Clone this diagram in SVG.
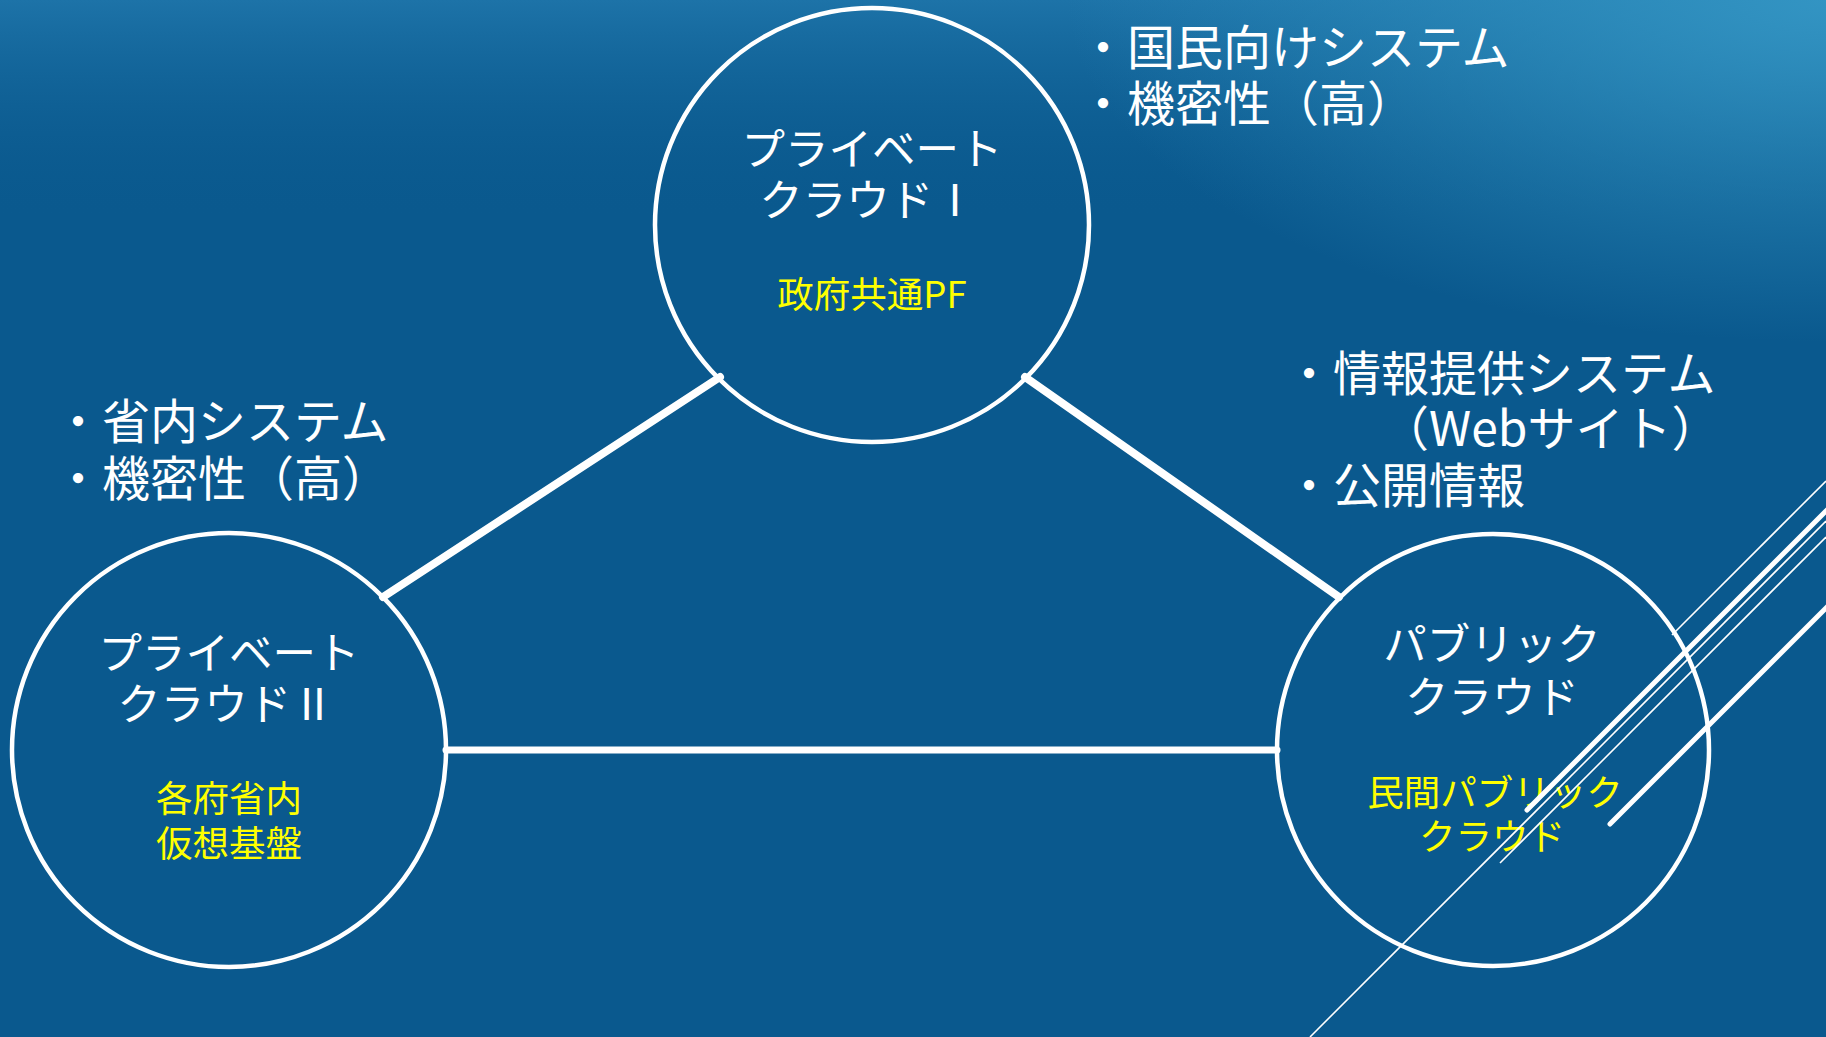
<svg xmlns="http://www.w3.org/2000/svg" width="1826" height="1037" viewBox="0 0 1826 1037">
  <defs>
    <linearGradient id="gTop" gradientUnits="userSpaceOnUse" x1="0" y1="0" x2="0" y2="220">
      <stop offset="0" stop-color="#1d73a8" stop-opacity="1"/>
      <stop offset="1" stop-color="#0a598e" stop-opacity="0"/>
    </linearGradient>
    <radialGradient id="gCorner" gradientUnits="userSpaceOnUse" cx="1826" cy="0" r="760" gradientTransform="translate(1826 0) scale(1 0.45) translate(-1826 0)">
      <stop offset="0" stop-color="#3496c4" stop-opacity="0.95"/>
      <stop offset="1" stop-color="#3496c4" stop-opacity="0"/>
    </radialGradient>
    <style>
      .ring { fill: none; stroke: #ffffff; stroke-width: 4.5; }
      .lbl { font-family: "Noto Sans CJK JP", "Liberation Sans", sans-serif; fill: #ffffff; font-size: 43.5px; text-anchor: middle; }
      .sub { font-family: "Noto Sans CJK JP", "Liberation Sans", sans-serif; fill: #ffff00; font-size: 36.5px; text-anchor: middle; }
      .note { font-family: "Noto Sans CJK JP", "Liberation Sans", sans-serif; fill: #ffffff; font-size: 48px; }
      .conn { stroke: #ffffff; stroke-width: 8; stroke-linecap: round; fill: none; }
      .conn-h { stroke-width: 7; }
      .deco-thin { stroke: #ffffff; stroke-width: 1.6; fill: none; }
      .deco-thick { stroke: #ffffff; stroke-width: 5; stroke-linecap: round; fill: none; }
    </style>
  </defs>

  <rect x="0" y="0" width="1826" height="1037" fill="#0a598e"/>
  <rect x="0" y="0" width="1826" height="1037" fill="url(#gTop)"/>
  <rect x="0" y="0" width="1826" height="1037" fill="url(#gCorner)"/>

  <g id="connectors">
    <line class="conn" x1="720" y1="377" x2="383" y2="597"/>
    <line class="conn" x1="1025" y1="377" x2="1339" y2="597"/>
    <line class="conn conn-h" x1="446" y1="750" x2="1277" y2="750"/>
  </g>

  <g id="node-private1">
    <circle class="ring" cx="872" cy="225" r="217"/>
    <text class="lbl"><tspan x="872" y="165">プライベート</tspan><tspan x="868" y="216">クラウドⅠ</tspan></text>
    <text class="sub" x="872" y="308">政府共通PF</text>
  </g>

  <g id="node-private2">
    <circle class="ring" cx="229" cy="750" r="217"/>
    <text class="lbl"><tspan x="229" y="669">プライベート</tspan><tspan x="226" y="720">クラウドⅡ</tspan></text>
    <text class="sub"><tspan x="229" y="812">各府省内</tspan><tspan x="229" y="857">仮想基盤</tspan></text>
  </g>

  <g id="node-public">
    <circle class="ring" cx="1493" cy="750" r="216"/>
    <text class="lbl"><tspan x="1492" y="660">パブリック</tspan><tspan x="1492" y="713">クラウド</tspan></text>
    <text class="sub"><tspan x="1495" y="806">民間パブリック</tspan><tspan x="1492" y="850">クラウド</tspan></text>
  </g>

  <g id="note-private1">
    <text class="note"><tspan x="1079" y="65">・国民向けシステム</tspan><tspan x="1079" y="121">・機密性（高）</tspan></text>
  </g>

  <g id="note-private2">
    <text class="note"><tspan x="54" y="439">・省内システム</tspan><tspan x="54" y="496">・機密性（高）</tspan></text>
  </g>

  <g id="note-public">
    <text class="note"><tspan x="1285" y="391">・情報提供システム</tspan><tspan x="1381" y="446">（Webサイト）</tspan><tspan x="1285" y="503">・公開情報</tspan></text>
  </g>

  <g id="decoration">
    <line class="deco-thin" x1="1672" y1="635" x2="1826" y2="481"/>
    <line class="deco-thick" x1="1527" y1="810" x2="1830" y2="507"/>
    <line class="deco-thin" x1="1310" y1="1037" x2="1826" y2="521"/>
    <line class="deco-thin" x1="1500" y1="863" x2="1826" y2="537"/>
    <line class="deco-thick" x1="1610" y1="824" x2="1830" y2="604"/>
  </g>
</svg>
